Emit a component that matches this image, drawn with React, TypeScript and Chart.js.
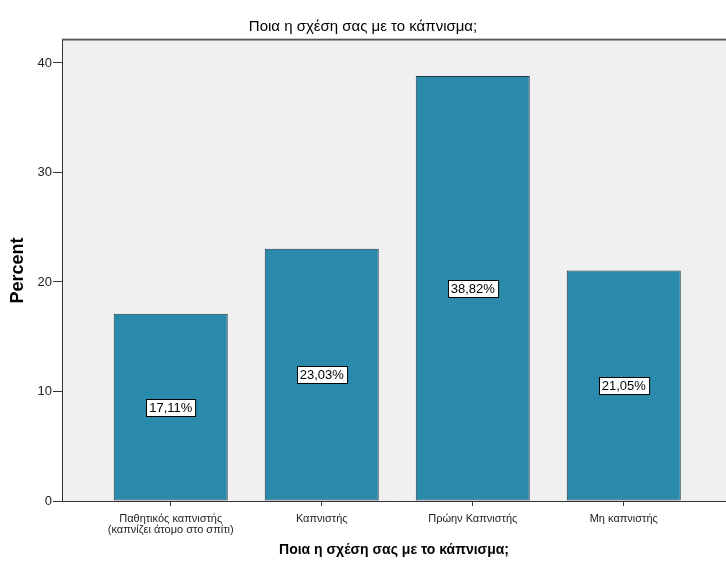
import React, { useEffect, useRef } from "react";
import { Chart, registerables } from "chart.js";

Chart.register(...registerables);

const categories: (string | string[])[] = [
  ["Παθητικός καπνιστής", "(καπνίζει άτομο στο σπίτι)"],
  "Καπνιστής",
  "Πρώην Καπνιστής",
  "Μη καπνιστής",
];
const percents: number[] = [17.11, 23.03, 38.82, 21.05];
const yTicks: number[] = [0, 10, 20, 30, 40];
const titleText = "Ποια η σχέση σας με το κάπνισμα;";
const xTitleText = "Ποια η σχέση σας με το κάπνισμα;";
const yTitleText = "Percent";

const FONT = "'Liberation Sans', Arial, sans-serif";

const bgPlugin = {
  id: "plotBg",
  beforeDraw(chart: any) {
    const { ctx, chartArea } = chart;
    ctx.save();
    ctx.fillStyle = "#f0f0f0";
    ctx.fillRect(chartArea.left, chartArea.top, chartArea.right - chartArea.left, chartArea.bottom - chartArea.top);
    ctx.fillStyle = "#c8c8c8";
    ctx.fillRect(chartArea.left, chartArea.top - 2, chartArea.right - chartArea.left, 1);
    ctx.fillStyle = "#555555";
    ctx.fillRect(chartArea.left, chartArea.top - 1, chartArea.right - chartArea.left, 1.5);
    ctx.restore();
  },
};

const labelPlugin = {
  id: "barLabels",
  afterDatasetsDraw(chart: any) {
    const { ctx } = chart;
    const meta = chart.getDatasetMeta(0);
    ctx.save();
    ctx.font = `13px ${FONT}`;
    ctx.textAlign = "center";
    ctx.textBaseline = "middle";
    meta.data.forEach((bar: any, i: number) => {
      const txt = percents[i].toFixed(2).replace(".", ",") + "%";
      const cx = bar.x;
      const cy = (bar.y + bar.base) / 2;
      const w = ctx.measureText(txt).width + 6;
      const h = 17;
      const x0 = Math.round(cx - w / 2) + 0.5;
      const y0 = Math.round(cy - h / 2) + 0.5;
      ctx.fillStyle = "#ffffff";
      ctx.fillRect(x0, y0, w, h);
      ctx.strokeStyle = "#000000";
      ctx.lineWidth = 1;
      ctx.strokeRect(x0, y0, w, h);
      ctx.fillStyle = "#000000";
      ctx.fillText(txt, cx, cy + 1);
    });
    ctx.restore();
  },
};

export default function App() {
  const ref = useRef<HTMLCanvasElement | null>(null);
  useEffect(() => {
    if (!ref.current) return;
    const chart = new Chart(ref.current, {
      type: "bar",
      data: {
        datasets: [
          {
            data: percents.map((v, i) => ({ x: i, y: v })),
            backgroundColor: "#2a8aab",
            borderColor: "#1e3b4a",
            borderWidth: 1,
            borderSkipped: false,
            barPercentage: 0.755,
            categoryPercentage: 1,
          },
        ],
      },
      options: {
        animation: false,
        responsive: false,
        maintainAspectRatio: false,
        layout: { padding: { left: 0, right: 0, top: 0, bottom: 0 } },
        plugins: {
          legend: { display: false },
          tooltip: { enabled: false },
          title: {
            display: true,
            text: titleText,
            color: "#000000",
            font: { family: FONT, size: 15, weight: "normal" },
            padding: { top: 18, bottom: 4 },
          },
        },
        scales: {
          x: {
            type: "linear",
            offset: false,
            min: -0.72,
            max: 3.677,
            afterBuildTicks: (scale: any) => {
              scale.ticks = categories.map((_, i) => ({ value: i }));
            },
            afterFit: (scale: any) => {
              scale.height = 65;
            },
            grid: {
              offset: false,
              drawOnChartArea: false,
              drawTicks: true,
              tickLength: 5,
              tickColor: "#333333",
              tickWidth: 1,
            },
            border: { display: true, color: "#333333", width: 1 },
            ticks: {
              autoSkip: false,
              maxRotation: 0,
              padding: 7,
              color: "#222222",
              font: { family: FONT, size: 11, lineHeight: 1.05 },
              callback: (v: any) => categories[Number(v)] ?? "",
            },
            title: {
              display: true,
              text: xTitleText,
              color: "#000000",
              font: { family: FONT, size: 14, weight: "bold" },
              padding: { top: 0, bottom: 7 },
            },
          },
          y: {
            min: 0,
            max: 42.1,
            afterBuildTicks: (scale: any) => {
              scale.ticks = yTicks.map((v) => ({ value: v }));
            },
            afterFit: (scale: any) => {
              scale.width = 62;
            },
            grid: {
              drawOnChartArea: false,
              drawTicks: true,
              tickLength: 9,
              tickColor: "#333333",
              tickWidth: 1,
            },
            border: { display: true, color: "#333333", width: 1 },
            ticks: {
              padding: 1,
              color: "#222222",
              font: { family: FONT, size: 13 },
            },
            title: {
              display: true,
              text: yTitleText,
              color: "#000000",
              font: { family: FONT, size: 18, weight: "bold" },
              padding: { top: 7, bottom: 0 },
            },
          },
        },
      },
      plugins: [bgPlugin, labelPlugin],
    } as any);
    return () => chart.destroy();
  }, []);
  return (
    <div style={{ position: "absolute", left: 0, top: 0, width: 726, height: 566 }}>
      <canvas ref={ref} width={726} height={566} />
    </div>
  );
}
